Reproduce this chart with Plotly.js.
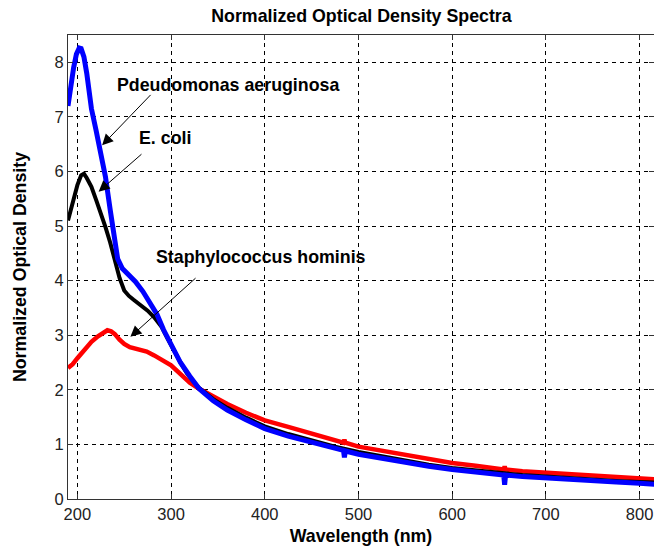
<!DOCTYPE html>
<html>
<head>
<meta charset="utf-8">
<script src="https://cdn.plot.ly/plotly-3.0.1.min.js"></script>
<style>html,body{margin:0;padding:0;background:#fff;}</style>
</head>
<body>
<div id="chart" style="width:654px;height:550px;"></div>
<script>
// Pseudomonas aeruginosa (blue)
var wlPseudo = [190,193,196,199,202,204,207,210,215,220,225,230,235,240,243,248,255,262,270,278,285,292,300,310,320,330,345,360,380,400,425,450,475,484,485,486,500,525,550,575,600,625,655,656,657,675,700,725,750,775,800,816];
var odPseudo = [7.2,7.6,7.9,8.15,8.26,8.25,8.1,7.8,7.15,6.75,6.35,5.9,5.3,4.65,4.4,4.22,4.1,3.98,3.8,3.58,3.38,3.1,2.82,2.5,2.25,2.02,1.8,1.63,1.45,1.29,1.15,1.04,0.92,0.89,0.76,0.88,0.82,0.74,0.67,0.6,0.54,0.49,0.44,0.26,0.44,0.41,0.38,0.36,0.33,0.31,0.29,0.27];

// E. coli (black)
var wlEcoli = [190,195,200,204,207,210,215,220,225,230,235,240,245,250,255,260,267,275,282,290,296,301,310,317,325,330,345,360,380,400,425,450,475,500,525,550,575,600,625,656,675,700,725,750,775,800,816];
var odEcoli = [5.1,5.45,5.75,5.93,5.96,5.88,5.72,5.48,5.25,4.98,4.7,4.35,4.05,3.82,3.72,3.65,3.56,3.45,3.33,3.15,2.95,2.78,2.5,2.3,2.12,2.03,1.83,1.67,1.49,1.33,1.19,1.07,0.96,0.86,0.78,0.7,0.63,0.57,0.52,0.47,0.44,0.41,0.38,0.36,0.33,0.31,0.3];

// Staphylococcus hominis (red)
var wlStaph = [190,195,200,207,215,222,228,232,236,240,245,250,256,265,274,282,290,300,313,320,330,345,360,380,400,425,450,475,484,485,486,500,525,550,575,600,625,655,656,657,675,700,725,750,775,800,816];
var odStaph = [2.4,2.47,2.58,2.73,2.88,2.98,3.06,3.09,3.07,3.02,2.92,2.84,2.78,2.74,2.7,2.63,2.56,2.45,2.24,2.13,2.02,1.87,1.74,1.58,1.44,1.32,1.2,1.07,1.03,1.09,1.03,0.96,0.88,0.8,0.73,0.66,0.61,0.54,0.6,0.54,0.51,0.48,0.45,0.42,0.39,0.37,0.36];

var xTicks = [200,300,400,500,600,700,800];
var yTicks = [0,1,2,3,4,5,6,7,8];

var labels = ['Pdeudomonas aeruginosa','E. coli','Staphylococcus hominis'];
var labelX = [240.6,263.7,281.4];
var labelY = [7.58,6.61,4.44];
var arrowHeadX = [226.4,222.7,256.6];
var arrowHeadY = [6.48,5.63,2.97];
var arrowTailX = [279.7,270.0,327.7];
var arrowTailY = [7.43,6.34,4.07];

var FONT = 'Arial, "Liberation Sans", sans-serif';

var traces = [
  {x: wlStaph, y: odStaph, mode:'lines', line:{color:'#ff0000', width:4.5}, name:labels[2]},
  {x: wlEcoli, y: odEcoli, mode:'lines', line:{color:'#000000', width:4}, name:labels[1]},
  {x: wlPseudo, y: odPseudo, mode:'lines', line:{color:'#0000ff', width:5}, name:labels[0]}
];

var annotations = [];
for (var i = 0; i < labels.length; i++) {
  annotations.push({x:labelX[i], y:labelY[i], xref:'x', yref:'y', text:labels[i], showarrow:false,
    xanchor:'left', yanchor:'middle', font:{family:FONT, size:17.8, weight:'bold', color:'#000'}});
  annotations.push({x:arrowHeadX[i], y:arrowHeadY[i], xref:'x', yref:'y', ax:arrowTailX[i], ay:arrowTailY[i],
    axref:'x', ayref:'y', text:'', showarrow:true, arrowhead:2, arrowsize:2.2, arrowwidth:1, arrowcolor:'#000'});
}

var axisCommon = {
  showline:true, linecolor:'#333', linewidth:1, mirror:'ticks',
  ticks:'inside', ticklen:5, tickcolor:'#333',
  showgrid:true, gridcolor:'#000', gridwidth:1, griddash:'4px,4px',
  zeroline:false, tickfont:{family:FONT, size:16.5, color:'#222'}
};

var layout = Object.assign({
  width:654, height:550,
  margin:{l:68, r:0, t:35, b:51},
  paper_bgcolor:'#fff', plot_bgcolor:'#fff',
  showlegend:false,
  title:{text:'Normalized Optical Density Spectra', x:0.5527, xref:'container', xanchor:'center',
    y:0.971, yref:'container', yanchor:'middle', font:{family:FONT, size:17.8, weight:'bold', color:'#000'}},
  xaxis:Object.assign({}, axisCommon, {range:[190,815.4], tickvals:xTicks,
    title:{text:'Wavelength (nm)', standoff:7, font:{family:FONT, size:17.8, weight:'bold', color:'#000'}}}),
  yaxis:Object.assign({}, axisCommon, {range:[0,8.5], tickvals:yTicks,
    title:{text:'Normalized Optical Density', standoff:23, font:{family:FONT, size:17.8, weight:'bold', color:'#000'}}}),
  annotations:annotations
});

Plotly.newPlot('chart', traces, layout, {displayModeBar:false, staticPlot:true});
</script>
</body>
</html>
